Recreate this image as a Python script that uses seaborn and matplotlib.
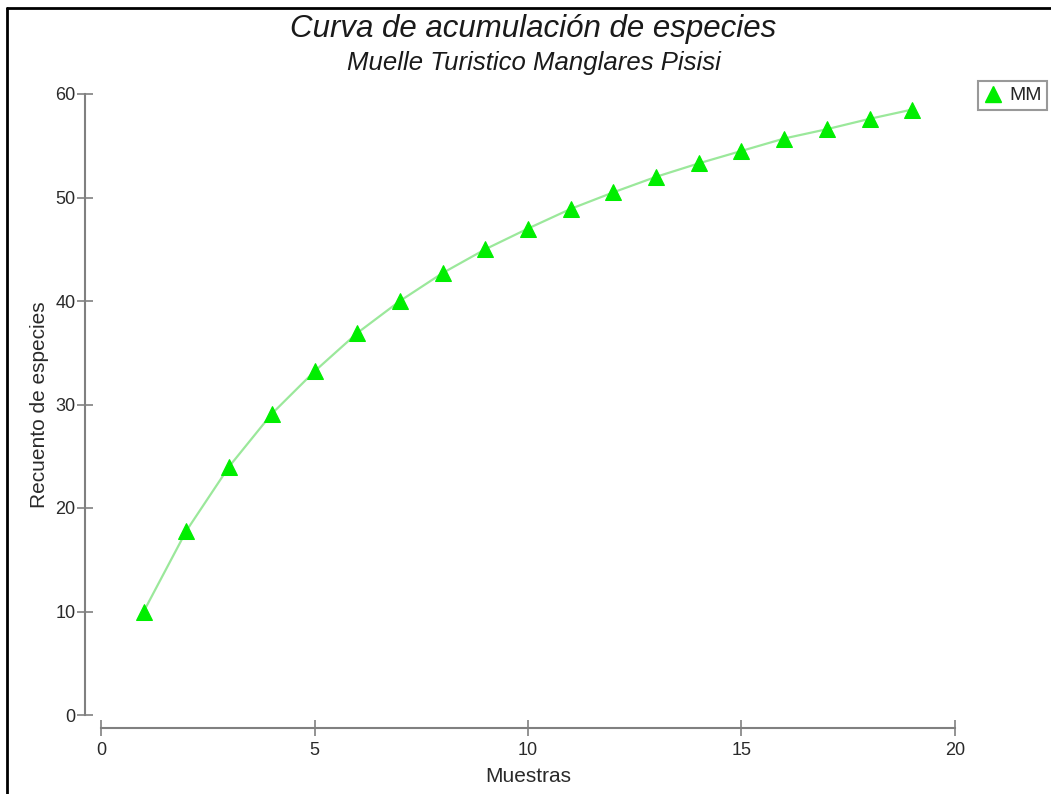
import numpy as np
import matplotlib
matplotlib.use('Agg')
import matplotlib.pyplot as plt
import seaborn as sns
from matplotlib.lines import Line2D

# species accumulation data
muestras = [1, 2, 3, 4, 5, 6, 7, 8, 9, 10, 11, 12, 13, 14, 15, 16, 17, 18, 19]
especies = [10.0, 17.8, 24.0, 29.1, 33.2, 36.9, 40.0, 42.7, 45.0, 47.0,
            48.9, 50.5, 52.0, 53.3, 54.5, 55.7, 56.6, 57.6, 58.5]
serie = 'MM'
x_ticks = [0, 5, 10, 15, 20]
y_ticks = [0, 10, 20, 30, 40, 50, 60]

sns.set_theme(style='white')
plt.rcParams['font.family'] = ['Liberation Sans', 'DejaVu Sans']

fig = plt.figure(figsize=(10.51, 7.94), dpi=100)
ax = fig.add_axes([101 / 1051, 79 / 794, 854 / 1051, 621 / 794])

sns.lineplot(x=muestras, y=especies, ax=ax, color='#9be89b', linewidth=1.6,
             marker='^', markersize=12, markerfacecolor='#00ee00',
             markeredgecolor='#00ee00', clip_on=False)

ax.set_xlim(0, 20)
ax.set_ylim(0, 60)
ax.set_xticks(x_ticks)
ax.set_yticks(y_ticks)

for s in ['top', 'right']:
    ax.spines[s].set_visible(False)
ax.spines['left'].set_position(('outward', 11.5))
ax.spines['bottom'].set_position(('outward', 9.4))
ax.spines['left'].set_bounds(0, 60)
ax.spines['bottom'].set_bounds(0, 20)
for s in ['left', 'bottom']:
    ax.spines[s].set_color('#808080')
    ax.spines[s].set_linewidth(1.5)

ax.tick_params(axis='both', direction='inout', length=12, width=1.2,
               color='#808080', labelsize=13, labelcolor='#2a2a2a',
               bottom=True, left=True)
ax.tick_params(axis='y', pad=1)
ax.tick_params(axis='x', pad=4)

ax.set_xlabel('Muestras', fontsize=15, color='#2a2a2a', labelpad=6)
ax.set_ylabel('Recuento de especies', fontsize=15, color='#2a2a2a', labelpad=4)

fig.text(533 / 1051, 1 - 29 / 794, 'Curva de acumulación de especies',
         ha='center', va='center', fontsize=22.5, style='italic', color='#1a1a1a')
fig.text(534 / 1051, 1 - 63 / 794, 'Muelle Turistico Manglares Pisisi',
         ha='center', va='center', fontsize=18.5, style='italic', color='#1a1a1a')

handle = Line2D([], [], linestyle='none', marker='^', markersize=11,
                markerfacecolor='#00ee00', markeredgecolor='#00ee00')
leg = fig.legend([handle], [serie], loc='upper left',
                 bbox_to_anchor=(978 / 1051, 1 - 81 / 794),
                 frameon=True, fancybox=False, fontsize=14,
                 handlelength=0.9, handletextpad=0.4, borderpad=0.3,
                 borderaxespad=0)
leg.get_frame().set_edgecolor('#808080')
leg.get_frame().set_linewidth(1.5)

# black frame around the picture (top and left are visible)
fig.add_artist(Line2D([7 / 1051, 1], [1 - 8 / 794, 1 - 8 / 794],
                      transform=fig.transFigure, color='black', linewidth=2))
fig.add_artist(Line2D([7 / 1051, 7 / 1051], [0, 1 - 8 / 794],
                      transform=fig.transFigure, color='black', linewidth=2))

fig.savefig('out.png', dpi=100)
plt.close(fig)
